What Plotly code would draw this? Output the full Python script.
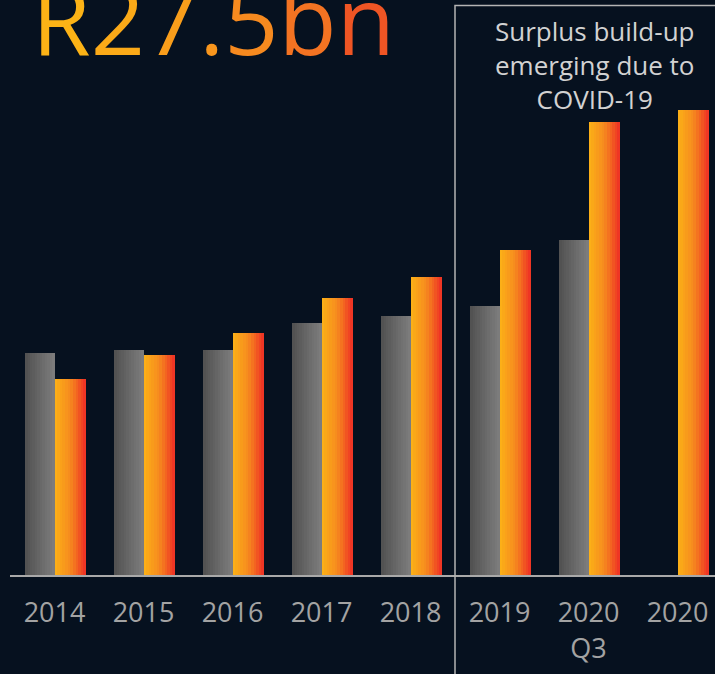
import plotly.graph_objects as go

# ---- data (R bn) ----
categories = ["2014", "2015", "2016", "2017", "2018", "2019", "2020<br>Q3", "2020"]
prior_values = [13.1, 13.3, 13.3, 14.9, 15.3, 15.9, 19.8, None]
current_values = [11.6, 13.0, 14.3, 16.4, 17.6, 19.2, 26.8, 27.5]
headline = "R27.5bn"
note = "Surplus build-up<br>emerging due to<br>COVID-19"

# ---- style ----
BG = "#06111f"
W, H = 715, 674
ML, MR, MT, MB = 10, 0, 0, 99
GROUP_PX = 89.0
plot_w = W - ML - MR
x_range = [-0.5, -0.5 + plot_w / GROUP_PX]
y_range = [0, 34.0]

N = 12  # gradient slices per bar
GRAY_W = 0.33
ORANGE_W = 0.355


def lerp(c1, c2, t):
    return tuple(round(a + (b - a) * t) for a, b in zip(c1, c2))


def grad(stops, t):
    for (p0, c0), (p1, c1) in zip(stops, stops[1:]):
        if t <= p1:
            return lerp(c0, c1, (t - p0) / (p1 - p0))
    return stops[-1][1]


gray_stops = [(0, (80, 80, 80)), (1, (126, 126, 126))]
orange_stops = [(0, (252, 178, 22)), (0.5, (246, 138, 31)), (1, (238, 46, 36))]

fig = go.Figure()

for values, start, width, stops in [
    (prior_values, -GRAY_W, GRAY_W, gray_stops),
    (current_values, 0.0, ORANGE_W, orange_stops),
]:
    sw = width / N
    for i in range(N):
        t = (i + 0.5) / N
        r, g, b = grad(stops, t)
        fig.add_trace(go.Bar(
            x=categories, y=values,
            offset=start + i * sw,
            width=sw * 1.15 if i < N - 1 else sw,
            marker=dict(color=f"rgb({r},{g},{b})", line=dict(width=0)),
            showlegend=False, hoverinfo="skip",
        ))

head_cols = ["#fcb316", "#fbaa18", "#f99e1b", "#f8961d", "#f68a1f", "#f37322", "#ef5524"]
head_html = "".join(f"<span style='color:{c}'>{ch}</span>" for ch, c in zip(headline, head_cols))


def px_to_paper_x(px):
    return (px - ML) / plot_w


def px_to_paper_y(py):
    plot_h = H - MT - MB
    return (H - MB - py) / plot_h


box_x0 = (4.5 - x_range[0]) / (x_range[1] - x_range[0])

fig.add_shape(type="rect", xref="paper", yref="paper",
              x0=box_x0, x1=1.3, y0=-0.4, y1=px_to_paper_y(5.5),
              line=dict(color="#b4b4b4", width=1.5), fillcolor="rgba(0,0,0,0)",
              layer="above")

fig.add_annotation(text=head_html, xref="paper", yref="paper",
                   x=px_to_paper_x(30), y=px_to_paper_y(85),
                   xanchor="left", yanchor="bottom", showarrow=False,
                   font=dict(family="Open Sans", size=95, color="#f99e1b"))

fig.add_annotation(text=note, xref="paper", yref="paper",
                   x=px_to_paper_x(595), y=px_to_paper_y(11),
                   xanchor="center", yanchor="top", showarrow=False, align="center",
                   font=dict(family="Open Sans", size=26, color="#d2d2d2"))

fig.update_layout(
    width=W, height=H,
    margin=dict(l=ML, r=MR, t=MT, b=MB, pad=0),
    paper_bgcolor=BG, plot_bgcolor=BG,
    barmode="overlay", bargap=0,
    showlegend=False,
    font=dict(family="Open Sans"),
)
fig.update_xaxes(
    type="category", range=x_range, showgrid=False, zeroline=False,
    showline=True, linecolor="#a9a9a9", linewidth=2,
    ticks="outside", ticklen=13, tickcolor=BG,
    tickfont=dict(family="Open Sans", size=27, color="#a3a3a3"),
    fixedrange=True,
)
fig.update_yaxes(range=y_range, visible=False, showgrid=False, zeroline=False, fixedrange=True)

fig.write_html("out.html", post_script="document.body.style.margin='0';document.body.style.background='" + BG + "';",
               config={"displayModeBar": False})
